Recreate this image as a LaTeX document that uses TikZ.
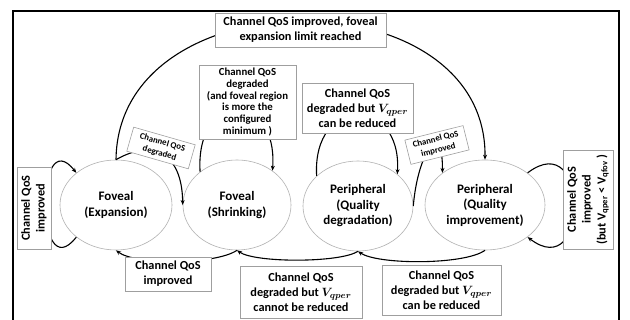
\documentclass[tikz,border=0pt]{standalone}
\usepackage{fontspec}
\setmainfont{Carlito}
\usepackage{amsmath}
\usepackage{bm}
\usetikzlibrary{shapes.geometric,arrows.meta}
\begin{document}
\begin{tikzpicture}[x=1pt,y=1pt,
  stnode/.style={ellipse,draw=gray!60,fill=white,line width=0.6pt,minimum width=112pt,minimum height=90pt,inner sep=0pt,align=center,font=\fontsize{13}{15.5}\selectfont\bfseries},
  lbl/.style={draw=gray!75,fill=white,line width=0.6pt,align=center,inner sep=0pt,font=\fontsize{12.3}{14.8}\selectfont\bfseries},
  sml/.style={lbl,font=\fontsize{8.8}{11.2}\selectfont\bfseries},
  conn/.style={-{Stealth[length=5pt,width=4pt]},line width=1.1pt}
]
\useasboundingbox (0,0) rectangle (630,320);
\fill[white] (0,0) rectangle (630,320);
\draw[line width=1.6pt] (13,-5) -- (13,309) -- (619,309) -- (619,-5);

% states
\node[stnode] (E1) at (116,115) {Foveal\\(Expansion)};
\node[stnode,minimum width=108pt] (E2) at (237,115) {Foveal\\(Shrinking)};
\node[stnode,minimum width=110pt] (E3) at (358,114) {Peripheral\\(Quality\\degradation)};
\node[stnode,minimum width=120pt] (E4) at (485,115) {Peripheral\\(Quality\\improvement)};

% transitions
\draw[conn] (E1.north) .. controls (118,345) and (487,345) .. (E4.north);
\draw[conn] (E1.north) .. controls (150,180) and (182,170) .. (E2.west);
\draw[conn] (E2.138) .. controls (195,230) and (278,230) .. (E2.44);
\draw[conn] (E3.144) .. controls (312,225) and (402,225) .. (E3.39);
\draw[conn] (E3.east) .. controls (418,170) and (443,200) .. (E4.143);
\draw[conn] (E1.219) .. controls (35,30) and (35,200) .. (E1.141);
\draw[conn] (E4.37) .. controls (590,195) and (590,35) .. (E4.-37);
\draw[conn] (E2.south) .. controls (215,55) and (135,55) .. (E1.south);
\draw[conn] (E3.south) .. controls (340,57) and (255,57) .. (E2.south);
\draw[conn] (E4.south) .. controls (465,55) and (378,55) .. (E3.south);

% labels
\node[lbl,minimum width=171pt,minimum height=34pt] (Btop) at (300.5,290) {Channel QoS improved, foveal\\expansion limit reached};
\node[lbl,font=\fontsize{10.8}{11.8}\selectfont\bfseries,minimum width=97pt,minimum height=74pt] (Bshr) at (247.5,218) {Channel QoS\\degraded\\(and foveal region\\is more the\\configured\\minimum )};
\node[lbl,minimum width=111pt,minimum height=50pt] (Bper) at (357.5,212) {Channel QoS\\degraded but $\bm{V_{qper}}$\\can be reduced};
\node[lbl,rotate=90,minimum width=82pt,minimum height=34pt] (Bl) at (34,112) {Channel QoS\\improved};
\node[sml,rotate=-16,minimum width=64pt,minimum height=25pt] (S1) at (161,172) {Channel QoS\\degraded};
\node[sml,rotate=14,minimum width=60pt,minimum height=25pt] (S2) at (437,175) {Channel QoS\\improved};
\node[lbl,rotate=90,minimum width=99pt,minimum height=50pt] (Br) at (588,120.5) {Channel QoS\\improved\\(but V\textsubscript{qper} < V\textsubscript{qfov} )};
\node[lbl,minimum width=86pt,minimum height=34pt] (Bb1) at (168,46) {Channel QoS\\improved};
\node[lbl,minimum width=122pt,minimum height=52pt] (Bb2) at (301,28) {Channel QoS\\degraded but $\bm{V_{qper}}$\\cannot be reduced};
\node[lbl,minimum width=119pt,minimum height=50pt] (Bb3) at (441.5,30) {Channel QoS\\degraded but $\bm{V_{qper}}$\\can be reduced};
\end{tikzpicture}
\end{document}
